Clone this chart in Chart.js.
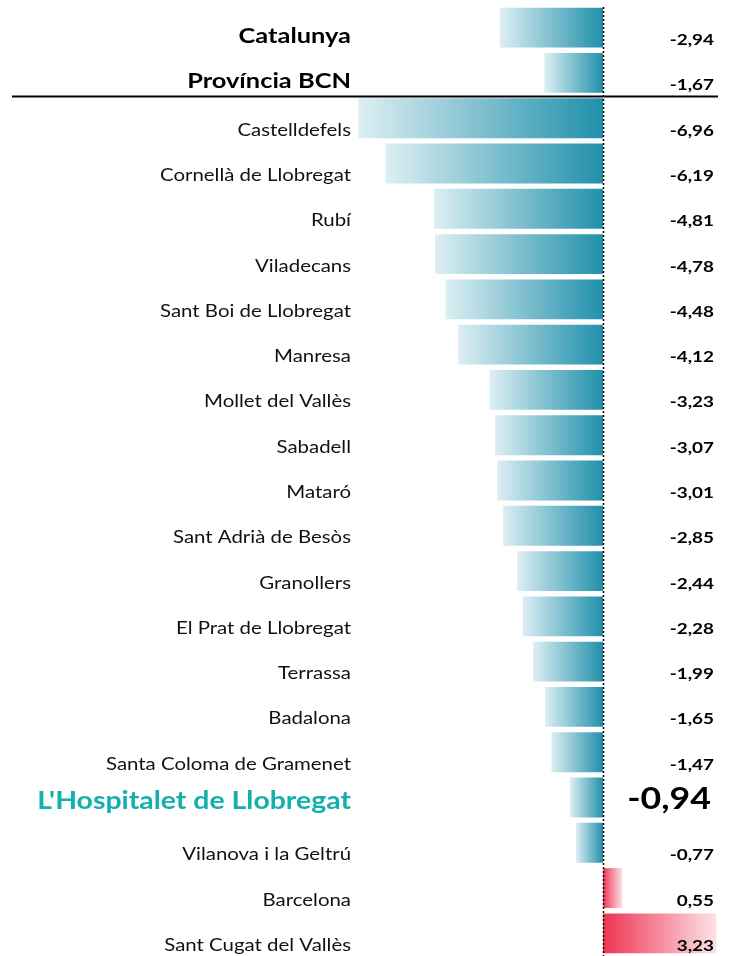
<!DOCTYPE html>
<html>
<head>
<meta charset="utf-8">
<title>Variació per municipi</title>
<script src="https://cdn.jsdelivr.net/npm/chart.js@4/dist/chart.umd.min.js"></script>
<style>
  html, body { margin: 0; padding: 0; background: #fff; }
  #wrap { position: relative; width: 731px; height: 956px; }
</style>
</head>
<body>
<div id="wrap"><canvas id="chart"></canvas></div>
<script>
// Data
const categories = [
    'Catalunya', 'Província BCN', 'Castelldefels', 'Cornellà de Llobregat', 'Rubí',
    'Viladecans', 'Sant Boi de Llobregat', 'Manresa', 'Mollet del Vallès', 'Sabadell',
    'Mataró', 'Sant Adrià de Besòs', 'Granollers', 'El Prat de Llobregat', 'Terrassa',
    'Badalona', 'Santa Coloma de Gramenet', "L'Hospitalet de Llobregat",
    'Vilanova i la Geltrú', 'Barcelona', 'Sant Cugat del Vallès'
];
const values = [
    -2.94, -1.67, -6.96, -6.19, -4.81,
    -4.78, -4.48, -4.12, -3.23, -3.07,
    -3.01, -2.85, -2.44, -2.28, -1.99,
    -1.65, -1.47, -0.94,
    -0.77, 0.55, 3.23
];
const aggregateRows = ['Catalunya', 'Província BCN'];
const highlightRow = "L'Hospitalet de Llobregat";

const FONT = 'Lato, "Open Sans", sans-serif';
const TEAL_DARK = '#2190ab';
const TEAL_LIGHT = '#ddeff3';
const RED_DARK = '#ee3553';
const RED_LIGHT = '#fde3e8';

function fmt(v) {
    return v.toFixed(2).replace('.', ',');
}

// Gradient fill per bar, from the bar's tip to the zero line
function barGradient(ctx) {
    const chart = ctx.chart;
    const xs = chart.scales.x;
    if (!chart.chartArea || !xs) return TEAL_DARK;
    const v = ctx.raw;
    const x0 = xs.getPixelForValue(0);
    const x1 = xs.getPixelForValue(v);
    const g = chart.ctx.createLinearGradient(Math.min(x0, x1), 0, Math.max(x0, x1), 0);
    if (v < 0) {
        g.addColorStop(0, TEAL_LIGHT);
        g.addColorStop(1, TEAL_DARK);
    } else {
        g.addColorStop(0, RED_DARK);
        g.addColorStop(1, RED_LIGHT);
    }
    return g;
}

// right-aligned text, stretched horizontally to mimic the wide office rendering
function drawText(ctx, text, right, y, font, color, stretch) {
    ctx.save();
    ctx.font = font;
    ctx.fillStyle = color;
    ctx.textAlign = 'right';
    ctx.translate(right, y);
    ctx.scale(stretch, 1);
    ctx.fillText(text, 0, 0);
    ctx.restore();
}

// Labels, zero line and separator
const decorations = {
    id: 'decorations',
    beforeDatasetsDraw(chart) {
        const { ctx } = chart;
        const ys = chart.scales.y;
        // separator under the aggregate rows
        const ySep = (ys.getPixelForValue(1) + ys.getPixelForValue(2)) / 2 + 1;
        ctx.save();
        ctx.strokeStyle = '#000';
        ctx.lineWidth = 2;
        ctx.beginPath();
        ctx.moveTo(12, ySep);
        ctx.lineTo(718, ySep);
        ctx.stroke();
        ctx.restore();
    },
    afterDatasetsDraw(chart) {
        const { ctx, chartArea } = chart;
        const xs = chart.scales.x;
        const ys = chart.scales.y;
        const x0 = Math.round(xs.getPixelForValue(0)) + 0.5;

        ctx.save();
        ctx.strokeStyle = '#000';
        ctx.lineWidth = 1.5;
        ctx.setLineDash([2, 2]);
        ctx.beginPath();
        ctx.moveTo(x0, chartArea.top + 2);
        ctx.lineTo(x0, chartArea.bottom);
        ctx.stroke();
        ctx.setLineDash([]);

        ctx.textBaseline = 'alphabetic';
        categories.forEach((name, i) => {
            const yc = ys.getPixelForValue(i);
            const label = fmt(values[i]);
            if (aggregateRows.includes(name)) {
                drawText(ctx, name, 351, yc + 15, 'bold 20px ' + FONT, '#000', 1.27);
                drawText(ctx, label, 714, yc + 17, 'bold 16px ' + FONT, '#000', 1.18);
            } else if (name === highlightRow) {
                drawText(ctx, name, 351, yc + 11.5, 'bold 24.5px ' + FONT, '#14b0ad', 1.16);
                drawText(ctx, label, 711, yc + 11.5, 'bold 30.5px ' + FONT, '#000', 1.17);
            } else {
                drawText(ctx, name, 351, yc + 17.5, '17px ' + FONT, '#111', 1.2);
                drawText(ctx, label, 714, yc + 17.5, 'bold 16px ' + FONT, '#000', 1.18);
            }
        });
        ctx.restore();
    }
};

new Chart(document.getElementById('chart'), {
    type: 'bar',
    data: {
        labels: categories,
        datasets: [{
            data: values,
            backgroundColor: barGradient,
            borderWidth: 0,
            barPercentage: 0.88,
            categoryPercentage: 1
        }]
    },
    options: {
        indexAxis: 'y',
        responsive: true,
        maintainAspectRatio: false,
        animation: false,
        layout: {
            padding: { left: 357, right: 5, top: 5, bottom: 0 }
        },
        plugins: {
            legend: { display: false },
            tooltip: { enabled: false }
        },
        scales: {
            x: { display: false, min: -7, max: 3.5 },
            y: { display: false }
        }
    },
    plugins: [decorations]
});
</script>
</body>
</html>
